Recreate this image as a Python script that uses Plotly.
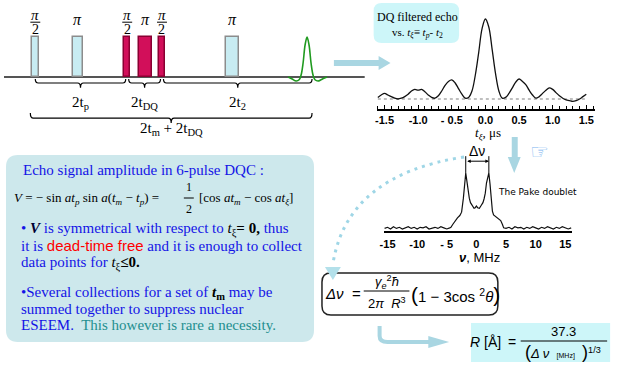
import plotly.graph_objects as go
import numpy as np

W, H = 631, 378

# ---------------- data ----------------
# pulse sequence (arbitrary time units)
pulse_names = ["π/2", "π", "π/2", "π", "π/2", "π"]
pulse_t = [3.15, 7.4, 12.4, 14.2, 15.9, 22.95]
pulse_w = [0.7, 1.0, 0.6, 1.3, 0.6, 1.3]
pulse_h = [1, 1, 1, 1, 1, 1]
pulse_dq = [False, False, True, True, True, False]

# schematic echo after last pulse
echo_sig_t = [28.6, 29.0, 29.4, 29.7, 29.9, 30.1, 30.3, 30.5, 30.7, 30.9, 31.1, 31.3, 31.6, 31.9, 32.2, 32.5]
echo_sig_v = [0, -0.05, -0.1, -0.07, 0.05, 0.35, 0.8, 1.0, 0.8, 0.35, 0.05, -0.07, -0.1, -0.07, -0.03, 0]

# DQ filtered echo vs t_xi (us)
xi_t = [-1.60, -1.55, -1.50, -1.45, -1.40, -1.35, -1.30, -1.25, -1.20, -1.15, -1.10, -1.05,
        -1.00, -0.95, -0.90, -0.85, -0.80, -0.75, -0.70, -0.65, -0.60, -0.55, -0.50, -0.45,
        -0.40, -0.35, -0.30, -0.25, -0.20, -0.15, -0.10, -0.05, 0.00, 0.05, 0.10, 0.15,
        0.20, 0.25, 0.30, 0.35, 0.40, 0.45, 0.50, 0.55, 0.60, 0.65, 0.70, 0.75,
        0.80, 0.85, 0.90, 0.95, 1.00, 1.05, 1.10, 1.15, 1.20, 1.25, 1.30, 1.35,
        1.40, 1.45, 1.50]
xi_v = [0.02, 0.05, 0.07, 0.05, 0.03, 0.01, 0.00, 0.01, 0.03, 0.06, 0.10, 0.12,
        0.11, 0.12, 0.09, 0.05, 0.02, 0.01, 0.04, 0.10, 0.17, 0.22, 0.24, 0.20,
        0.13, 0.06, 0.01, 0.02, 0.10, 0.30, 0.58, 0.88, 1.00, 0.90, 0.62, 0.32,
        0.10, 0.01, 0.02, 0.07, 0.14, 0.21, 0.25, 0.22, 0.18, 0.11, 0.05, 0.01,
        0.03, 0.07, 0.11, 0.14, 0.12, 0.08, 0.04, 0.01, -0.01, -0.02, -0.03, -0.02,
        0.00, 0.03, 0.06]
echo_ticks = [-1.5, -1.0, -0.5, 0.0, 0.5, 1.0, 1.5]
echo_ticktext = ["-1.5", "-1.0", "- 0.5", "0.0", "0.5", "1.0", "1.5"]

# Pake doublet spectrum (MHz)
nu = [-15.5, -15.0, -14.5, -14.0, -13.5, -13.0, -12.5, -12.0, -11.5, -11.0, -10.5, -10.0,
      -9.5, -9.0, -8.5, -8.0, -7.5, -7.0, -6.5, -6.0, -5.5, -5.0, -4.5,
      -4.3, -4.0, -3.6, -3.2, -2.8, -2.5, -2.2, -2.0, -1.8, -1.6, -1.4, -1.2, -1.0,
      -0.7, -0.4, -0.2, 0.0, 0.2, 0.5, 0.8, 1.1, 1.3, 1.5, 1.7, 1.9, 2.1, 2.3, 2.5,
      2.7, 2.9, 3.3, 3.7, 4.1, 4.4, 4.6,
      5.0, 5.5, 6.0, 6.5, 7.0, 7.5, 8.0, 8.5, 9.0, 9.5, 10.0, 10.5, 11.0, 11.5,
      12.0, 12.5, 13.0, 13.5, 14.0, 14.5, 15.0, 15.5, 16.0]
pake = [0.01, 0.03, 0.00, 0.04, 0.01, 0.03, 0.00, 0.02, 0.04, 0.01, 0.03, 0.00,
        0.03, 0.02, 0.04, 0.00, 0.02, 0.03, 0.01, 0.04, 0.02, 0.00, 0.02,
        0.03, 0.08, 0.15, 0.20, 0.24, 0.30, 0.55, 0.82, 1.00, 0.85, 0.66, 0.55, 0.47,
        0.42, 0.37, 0.38, 0.41, 0.38, 0.37, 0.42, 0.47, 0.54, 0.64, 0.82, 0.95, 1.00, 0.80, 0.55,
        0.32, 0.25, 0.22, 0.19, 0.15, 0.08, 0.02,
        0.01, 0.03, 0.00, 0.04, 0.02, 0.03, 0.00, 0.03, 0.01, 0.04, 0.02, 0.00, 0.03,
        0.01, 0.04, 0.02, 0.00, 0.03, 0.01, 0.04, 0.02, 0.00, 0.02]
pake_ticks = [-15, -10, -5, 0, 5, 10, 15]
pake_ticktext = ["-15", "-10", "- 5", "0", "5", "10", "15"]

# ---------------- helpers ----------------
def dx(a, b):
    return [a / W, b / W]

def dy(top, bottom):
    return [1 - bottom / H, 1 - top / H]

def rrect(x0, y0, x1, y1, r):
    return (f"M {x0+r},{y0} L {x1-r},{y0} Q {x1},{y0} {x1},{y0+r} L {x1},{y1-r} "
            f"Q {x1},{y1} {x1-r},{y1} L {x0+r},{y1} Q {x0},{y1} {x0},{y1-r} "
            f"L {x0},{y0+r} Q {x0},{y0} {x0+r},{y0} Z")

SERIF = "Liberation Serif"
SANS = "Liberation Sans"
BLUE = "#1414e6"
PALE = "#a9d6e2"

fig = go.Figure()
shapes = []
ann = []

def px_shape(path, fill=None, color=None, width=0, dash=None, layer="above"):
    d = dict(type="path", path=path, xref="x4", yref="y4", layer=layer,
             line=dict(color=color or "rgba(0,0,0,0)", width=width))
    if dash:
        d["line"]["dash"] = dash
    if fill:
        d["fillcolor"] = fill
    shapes.append(d)

def txt(x, y, text, size=15, color="black", family=SERIF, xanchor="center", ref=("x4", "y4")):
    ann.append(dict(x=x, y=y, xref=ref[0], yref=ref[1], text=text, showarrow=False,
                    xanchor=xanchor, yanchor="middle",
                    font=dict(size=size, color=color, family=family)))

# ---------------- background boxes ----------------
px_shape(rrect(2, 155, 312, 342, 12), fill="#cde8ec", layer="below")
px_shape(rrect(372, 3, 458, 43, 8), fill="#cdf6f9", layer="below")
px_shape(rrect(320, 273, 497, 315, 9), fill="white", color="#222222", width=1.5, layer="below")
px_shape("M 470,323 L 610,323 L 610,362 L 470,362 Z", fill="#cdf6f9", layer="below")

# ---------------- pulse sequence ----------------
fig.add_trace(go.Bar(
    x=pulse_t, y=pulse_h, width=pulse_w, base=0,
    marker=dict(color=["#d20f5a" if d else "#c8ecf2" for d in pulse_dq],
                line=dict(color=["#8a0032" if d else "#8c8c8c" for d in pulse_dq], width=1.5)),
    xaxis="x", yaxis="y", showlegend=False, hoverinfo="skip"))
fig.add_trace(go.Scatter(x=echo_sig_t, y=echo_sig_v, mode="lines", line=dict(color="#1f9a1f", width=1.6, shape="spline"),
                         xaxis="x", yaxis="y", showlegend=False, hoverinfo="skip"))
shapes.append(dict(type="line", xref="x", yref="y", x0=0, x1=36.3, y0=0, y1=0,
                   line=dict(color="#555555", width=2), layer="below"))

for name, t in zip(pulse_names, pulse_t):
    if name == "π/2":
        txt(t, 1.55, "<i>π</i>", size=15, ref=("x", "y"))
        txt(t, 1.19, "2", size=14, ref=("x", "y"))
        shapes.append(dict(type="line", xref="x", yref="y", x0=t - 0.5, x1=t + 0.5, y0=1.37, y1=1.37,
                           line=dict(color="black", width=1)))
    else:
        txt(t, 1.43, "<i>π</i>", size=16, ref=("x", "y"))

def brace(x0, x1, yl, ye, yt, xm=None, c=0.3):
    if xm is None:
        xm = (x0 + x1) / 2
    p = (f"M {x0},{ye} Q {x0},{yl} {x0+c},{yl} L {xm-c},{yl} Q {xm},{yl} {xm},{yt} "
         f"Q {xm},{yl} {xm+c},{yl} L {x1-c},{yl} Q {x1},{yl} {x1},{ye}")
    shapes.append(dict(type="path", path=p, xref="x", yref="y", line=dict(color="black", width=1.2)))
    return xm

echo_peak_t = echo_sig_t[int(np.argmax(echo_sig_v))]
g = 0.15
m1 = brace(pulse_t[0], pulse_t[2] - g, -0.15, -0.05, -0.27)
m2 = brace(pulse_t[2] + g, pulse_t[4] - g, -0.15, -0.05, -0.27)
m3 = brace(pulse_t[4] + g, echo_peak_t + 0.5, -0.15, -0.05, -0.27)
m4 = brace(pulse_t[0] - 0.5, echo_peak_t + 0.5, -1.03, -0.9, -1.15)
txt(m1, -0.65, "2t<sub>p</sub>", size=15, ref=("x", "y"))
txt(m2, -0.65, "2t<sub>DQ</sub>", size=15, ref=("x", "y"))
txt(m3, -0.65, "2t<sub>2</sub>", size=15, ref=("x", "y"))
txt(m4, -1.3, "2t<sub>m</sub> + 2t<sub>DQ</sub>", size=15, ref=("x", "y"))

# ---------------- DQ filtered echo ----------------
fig.add_trace(go.Scatter(x=xi_t, y=xi_v, mode="lines", line=dict(color="#111111", width=1.3, shape="spline"),
                         xaxis="x2", yaxis="y2", showlegend=False, hoverinfo="skip"))
shapes.append(dict(type="line", xref="x2", yref="y2", x0=xi_t[0], x1=xi_t[-1], y0=0, y1=0,
                   line=dict(color="#aaaaaa", width=1.5, dash="dot"), layer="below"))
txt(416, 17, "DQ filtered echo", size=12)
txt(416, 33, "vs. <i>t</i><sub><i>ξ</i></sub>≡ <i>t</i><sub><i>p</i></sub>- <i>t</i><sub>2</sub>", size=11)
txt(487, 133, "<i>t</i><sub><i>ξ</i></sub>, μs", size=13)

# ---------------- Pake doublet ----------------
fig.add_trace(go.Scatter(x=nu, y=pake, mode="lines", line=dict(color="#111111", width=1.2),
                         xaxis="x3", yaxis="y3", showlegend=False, hoverinfo="skip"))
nu_a = np.array(nu); pk = np.array(pake)
left_peak = float(nu_a[nu_a < 0][np.argmax(pk[nu_a < 0])])
right_peak = float(nu_a[nu_a > 0][np.argmax(pk[nu_a > 0])])
for p in (left_peak, right_peak):
    shapes.append(dict(type="line", xref="x3", yref="y3", x0=p, x1=p, y0=1.0, y1=1.3,
                       line=dict(color="black", width=1)))
ann.append(dict(x=right_peak, y=1.21, ax=left_peak, ay=1.21, xref="x3", yref="y3", axref="x3", ayref="y3",
                text="", showarrow=True, arrowhead=2, arrowside="end+start", arrowsize=0.7,
                arrowwidth=1, arrowcolor="black"))
txt(476, 151, "Δν", size=14, family=SANS)
txt(495, 192, "The Pake doublet", size=9, family="DejaVu Sans", xanchor="left")
txt(479, 257, "<b><i>ν</i></b>, MHz", size=13, family=SANS)

# ---------------- arrows / decorations ----------------
px_shape("M 332,60 L 377,60 L 377,56 L 389,63 L 377,70 L 377,66 L 332,66 Z", fill=PALE)
px_shape("M 511,137 L 517,137 L 517,157 L 520,157 L 513.5,173 L 507,157 L 511,157 Z", fill=PALE)
txt(539, 152, "☞", size=21, color="#7ab4f0", family="DejaVu Sans")
px_shape("M 463,157 Q 345,175 331,264", color="#9fd6e6", width=3, dash="3px,5px")
px_shape("M 323,267 L 339,267 L 331,280 Z", fill="#b3e0ea")
px_shape("M 378,326 L 378,336 Q 378,342 386,342 L 428,342", color=PALE, width=4)
px_shape("M 427,336 L 448,342 L 427,348 Z", fill=PALE)

# ---------------- middle-left text box ----------------
txt(17, 170, "Echo signal amplitude in 6-pulse DQC :", size=15, color=BLUE, xanchor="left")
txt(8, 198, "<i>V</i> = − sin <i>at</i><sub><i>p</i></sub> sin <i>a</i>(<i>t</i><sub><i>m</i></sub> − <i>t</i><sub><i>p</i></sub>) =",
    size=13, xanchor="left")
txt(186, 187, "1", size=12)
txt(186, 209, "2", size=12)
px_shape("M 181,198 L 191,198", color="black", width=1)
txt(194, 198, "[cos <i>at</i><sub><i>m</i></sub> − cos <i>at</i><sub><i>ξ</i></sub>]", size=13, xanchor="left")

txt(15, 229, "• <b><i><span style='color:#000033'>V</span></i></b> is symmetrical with respect to "
    "<span style='color:black'><i>t</i><sub>ξ</sub><b>= 0,</b></span> thus", size=15, color=BLUE, xanchor="left")
txt(15, 245, "it is <span style='color:#ff0000;font-family:Liberation Sans'>dead-time free</span> and it is enough to collect",
    size=15, color=BLUE, xanchor="left")
txt(15, 263, "data points for <span style='color:black'><i>t</i><sub>ξ</sub><b>≤0.</b></span>", size=15,
    color=BLUE, xanchor="left")
txt(15, 293, "•Several collections for a set of <span style='color:black'><b><i>t</i><sub>m</sub></b></span> may be",
    size=15, color=BLUE, xanchor="left")
txt(15, 309, "summed together to suppress nuclear", size=15, color=BLUE, xanchor="left")
txt(15, 325, "ESEEM.  <span style='color:#1f8f8f'>This however is rare a necessity.</span>", size=15,
    color=BLUE, xanchor="left")

# ---------------- dipolar formula ----------------
txt(321, 293, "<i>Δν</i>  =", size=15, family=SANS, xanchor="left")
txt(385, 282, "<i>γ<sub>e</sub></i><sup>2</sup><i>ħ</i>", size=13, family=SANS)
px_shape("M 362,291 L 408,291", color="black", width=1)
txt(385, 303, "2<i>π  R</i><sup>3</sup>", size=13, family=SANS)
txt(408, 294, "<span style='font-size:21px'>(</span>1 − 3cos <sup>2</sup><i>θ</i><span style='font-size:21px'>)</span>",
    size=15, family=SANS, xanchor="left")

# ---------------- R formula ----------------
txt(485, 342, "<i>R</i> [Å]", size=14, family=SANS)
txt(511, 342, "=", size=14, family=SANS)
txt(563, 331, "37.3", size=13, family=SANS)
px_shape("M 520,341 L 607,341", color="black", width=1)
txt(563, 352, "<span style='font-size:18px'>(</span><i>Δ ν</i>  <span style='font-size:7px'>[MHz]</span>  "
    "<span style='font-size:18px'>)</span><sup>1/3</sup>", size=13, family=SANS)

# ---------------- layout ----------------
hidden = dict(visible=False, showgrid=False, zeroline=False, fixedrange=True)
fig.update_layout(
    width=W, height=H, margin=dict(l=0, r=0, t=0, b=0),
    paper_bgcolor="white", plot_bgcolor="rgba(0,0,0,0)",
    showlegend=False, bargap=0,
    xaxis=dict(domain=dx(0, 365), range=[0, 36.5], anchor="y", **hidden),
    yaxis=dict(domain=dy(0, 140), range=[-1.575, 1.925], anchor="x", **hidden),
    xaxis2=dict(domain=dx(375, 595), range=[-1.618, 1.633], anchor="y2",
                showline=True, linecolor="black", linewidth=2, showgrid=False, zeroline=False,
                ticks="inside", ticklen=4, tickcolor="black", tickwidth=1,
                tickvals=echo_ticks, ticktext=["<b>%s</b>" % s for s in echo_ticktext],
                tickfont=dict(family=SANS, size=11, color="black"),
                minor=dict(ticks="inside", ticklen=3, dtick=0.1, tick0=0, tickcolor="black")),
    yaxis2=dict(domain=dy(10, 109), range=[-0.125, 1.1125], anchor="x2", **hidden),
    xaxis3=dict(domain=dx(382, 572), range=[-15.67, 16.2], anchor="y3",
                showline=True, linecolor="black", linewidth=1.5, showgrid=False, zeroline=False,
                ticks="outside", ticklen=2, tickcolor="rgba(0,0,0,0)",
                tickvals=pake_ticks, ticktext=["<b>%s</b>" % s for s in pake_ticktext],
                tickfont=dict(family=SANS, size=11, color="black")),
    yaxis3=dict(domain=dy(150, 231), range=[-0.036, 1.41], anchor="x3", **hidden),
    xaxis4=dict(domain=[0, 1], range=[0, W], anchor="y4", **hidden),
    yaxis4=dict(domain=[0, 1], range=[H, 0], anchor="x4", **hidden),
    shapes=shapes, annotations=ann,
)
# empty trace so overlay axes exist
fig.add_trace(go.Scatter(x=[0], y=[0], mode="markers", marker=dict(opacity=0), xaxis="x4", yaxis="y4",
                         showlegend=False, hoverinfo="skip"))
fig.write_html("out.html", config={"displayModeBar": False},
               post_script="document.body.style.margin='0px';document.body.style.overflow='hidden';")
